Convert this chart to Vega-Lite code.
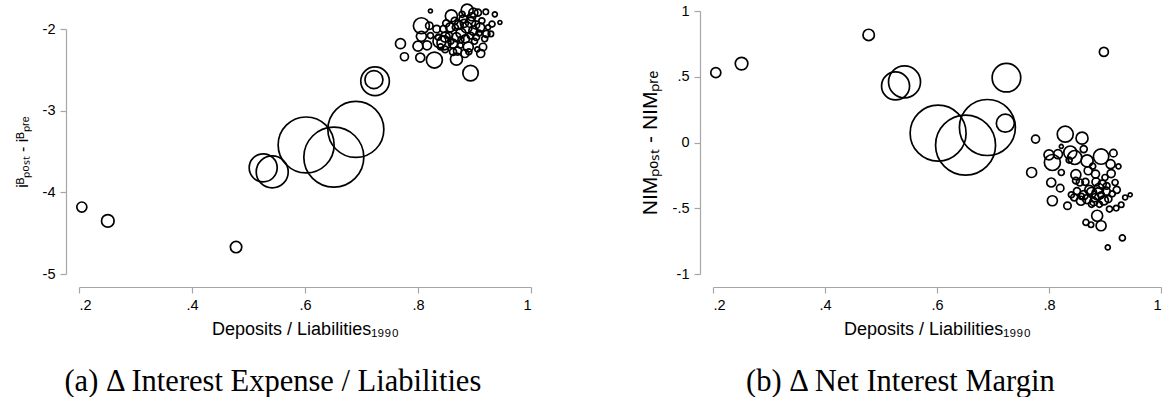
{
  "$schema": "https://vega.github.io/schema/vega-lite/v6.json",
  "padding": {"left": 14, "top": 0, "right": 0, "bottom": 0},
  "background": "white",
  "config": {
    "view": {"stroke": null},
    "axis": {
      "domainColor": "#a6a6a6", "tickColor": "#a6a6a6", "domainWidth": 1.2, "tickWidth": 1.2,
      "tickSize": 6, "labelFont": "Liberation Sans", "labelFontSize": 14.5, "labelColor": "black",
      "titleFont": "Liberation Sans", "titleFontWeight": "normal", "titleColor": "black", "grid": false,
      "offset": 13, "labelPadding": 5
    },
    "title": {"font": "Liberation Serif", "fontSize": 30.5, "fontWeight": "normal", "color": "black"}
  },
  "data": {"values": [
    {"x": 0.205, "a": -4.18, "b": 0.531, "w": 2.8},
    {"x": 0.251, "a": -4.35, "b": 0.60, "w": 4.4},
    {"x": 0.478, "a": -4.67, "b": 0.818, "w": 3.6},
    {"x": 0.526, "a": -3.70, "b": 0.43, "w": 21.8},
    {"x": 0.542, "a": -3.75, "b": 0.461, "w": 28.4},
    {"x": 0.602, "a": -3.42, "b": 0.071, "w": 87},
    {"x": 0.651, "a": -3.57, "b": -0.02, "w": 100},
    {"x": 0.690, "a": -3.23, "b": 0.114, "w": 87},
    {"x": 0.724, "a": -2.64, "b": 0.493, "w": 22.7},
    {"x": 0.722, "a": -2.62, "b": 0.147, "w": 9},
    {"x": 0.769, "a": -2.18, "b": -0.228, "w": 2.78},
    {"x": 0.776, "a": -2.34, "b": 0.026, "w": 1.78},
    {"x": 0.800, "a": -2.21, "b": -0.094, "w": 2.78},
    {"x": 0.804, "a": -2.35, "b": -0.304, "w": 2.25},
    {"x": 0.806, "a": -1.96, "b": -0.152, "w": 7.11},
    {"x": 0.806, "a": -2.09, "b": -0.443, "w": 2.78},
    {"x": 0.816, "a": -2.20, "b": -0.089, "w": 2.25},
    {"x": 0.820, "a": -1.96, "b": -0.347, "w": 1.52},
    {"x": 0.822, "a": -1.78, "b": -0.03, "w": 0.44},
    {"x": 0.822, "a": -2.08, "b": -0.228, "w": 1.0},
    {"x": 0.829, "a": -2.38, "b": 0.063, "w": 7.11},
    {"x": 0.833, "a": -2.00, "b": -0.481, "w": 1.52},
    {"x": 0.836, "a": -2.10, "b": -0.134, "w": 1.0},
    {"x": 0.838, "a": -2.15, "b": -0.076, "w": 4.69},
    {"x": 0.840, "a": -2.22, "b": -0.398, "w": 1.0},
    {"x": 0.846, "a": -2.17, "b": -0.114, "w": 5.44},
    {"x": 0.845, "a": -2.00, "b": -0.418, "w": 1.36},
    {"x": 0.848, "a": -2.10, "b": -0.245, "w": 2.78},
    {"x": 0.848, "a": -2.25, "b": -0.29, "w": 1.21},
    {"x": 0.850, "a": -1.93, "b": -0.37, "w": 1.36},
    {"x": 0.855, "a": -2.08, "b": -0.304, "w": 1.36},
    {"x": 0.857, "a": -1.98, "b": -0.443, "w": 2.25},
    {"x": 0.858, "a": -2.15, "b": -0.41, "w": 1.0},
    {"x": 0.859, "a": -1.84, "b": 0.033, "w": 4.0},
    {"x": 0.862, "a": -2.28, "b": -0.05, "w": 1.36},
    {"x": 0.862, "a": -2.18, "b": -0.40, "w": 2.25},
    {"x": 0.865, "a": -1.90, "b": -0.30, "w": 1.36},
    {"x": 0.866, "a": -1.98, "b": -0.608, "w": 1.0},
    {"x": 0.868, "a": -2.37, "b": -0.14, "w": 4.0},
    {"x": 0.868, "a": -2.10, "b": -0.43, "w": 2.25},
    {"x": 0.870, "a": -2.27, "b": -0.215, "w": 1.78},
    {"x": 0.872, "a": -1.95, "b": -0.36, "w": 2.25},
    {"x": 0.875, "a": -2.20, "b": -0.625, "w": 0.81},
    {"x": 0.876, "a": -2.05, "b": -0.38, "w": 2.78},
    {"x": 0.876, "a": -2.13, "b": -0.47, "w": 1.0},
    {"x": 0.878, "a": -1.82, "b": -0.18, "w": 1.0},
    {"x": 0.880, "a": -1.88, "b": -0.45, "w": 1.78},
    {"x": 0.882, "a": -1.93, "b": -0.42, "w": 1.78},
    {"x": 0.883, "a": -2.30, "b": -0.24, "w": 1.78},
    {"x": 0.884, "a": -2.12, "b": -0.30, "w": 1.78},
    {"x": 0.886, "a": -1.98, "b": -0.557, "w": 3.36},
    {"x": 0.887, "a": -1.77, "b": -0.39, "w": 4.0},
    {"x": 0.889, "a": -2.22, "b": -0.35, "w": 2.78},
    {"x": 0.890, "a": -2.28, "b": -0.47, "w": 1.0},
    {"x": 0.893, "a": -1.92, "b": -0.633, "w": 2.78},
    {"x": 0.893, "a": -2.08, "b": -0.40, "w": 1.21},
    {"x": 0.893, "a": -2.54, "b": -0.107, "w": 6.59},
    {"x": 0.895, "a": -1.85, "b": -0.316, "w": 1.78},
    {"x": 0.898, "a": -1.80, "b": 0.689, "w": 2.25},
    {"x": 0.898, "a": -2.02, "b": -0.44, "w": 2.25},
    {"x": 0.900, "a": -2.15, "b": -0.266, "w": 1.0},
    {"x": 0.902, "a": -1.95, "b": -0.37, "w": 1.78},
    {"x": 0.903, "a": -2.10, "b": -0.33, "w": 1.21},
    {"x": 0.905, "a": -2.25, "b": -0.798, "w": 0.69},
    {"x": 0.906, "a": -1.80, "b": -0.43, "w": 1.36},
    {"x": 0.908, "a": -2.05, "b": -0.506, "w": 1.0},
    {"x": 0.910, "a": -1.98, "b": -0.165, "w": 2.25},
    {"x": 0.911, "a": -2.30, "b": -0.236, "w": 1.78},
    {"x": 0.913, "a": -1.90, "b": -0.39, "w": 1.0},
    {"x": 0.915, "a": -2.22, "b": -0.081, "w": 1.52},
    {"x": 0.918, "a": -2.12, "b": -0.304, "w": 1.0},
    {"x": 0.920, "a": -1.79, "b": -0.499, "w": 0.81},
    {"x": 0.921, "a": -2.06, "b": -0.36, "w": 1.36},
    {"x": 0.924, "a": -1.98, "b": -0.182, "w": 0.69},
    {"x": 0.929, "a": -2.06, "b": -0.473, "w": 0.81},
    {"x": 0.931, "a": -1.94, "b": -0.726, "w": 1.0},
    {"x": 0.936, "a": -1.82, "b": -0.418, "w": 0.69},
    {"x": 0.945, "a": -1.92, "b": -0.398, "w": 0.44}
  ]},
  "hconcat": [
    {
      "width": 452, "height": 263,
      "title": {"text": "(a) Δ Interest Expense / Liabilities", "orient": "bottom", "anchor": "middle", "frame": "bounds", "offset": 28},
      "mark": {"type": "point", "shape": "circle", "filled": false, "stroke": "black", "strokeWidth": 1.7, "opacity": 1},
      "encoding": {
        "x": {"field": "x", "type": "quantitative",
          "scale": {"domain": [0.2, 1], "nice": false, "zero": false},
          "axis": {"values": [0.2, 0.4, 0.6, 0.8, 1], "labelExpr": "replace(format(datum.value, '~g'), '0.', '.')",
            "title": "Deposits / Liabilities₁₉₉₀", "titleFontSize": 18, "titlePadding": 9}},
        "y": {"field": "a", "type": "quantitative",
          "scale": {"domain": [-5, -2], "range": [263, 18], "nice": false, "zero": false},
          "axis": {"values": [-5, -4, -3, -2], "labelExpr": "replace(format(datum.value, '~g'), '−', '-')",
            "title": "iᴮₚₒₛₜ - iᴮₚᵣₑ", "titleFontSize": 16, "titlePadding": 12}},
        "size": {"field": "w", "type": "quantitative", "scale": {"domain": [0, 100], "range": [0, 3600], "zero": true}, "legend": null}
      }
    },
    {
      "width": 448, "height": 263,
      "title": {"text": "(b) Δ Net Interest Margin", "orient": "bottom", "anchor": "middle", "frame": "bounds", "offset": 28},
      "mark": {"type": "point", "shape": "circle", "filled": false, "stroke": "black", "strokeWidth": 1.7, "opacity": 1},
      "encoding": {
        "x": {"field": "x", "type": "quantitative",
          "scale": {"domain": [0.2, 1], "nice": false, "zero": false},
          "axis": {"values": [0.2, 0.4, 0.6, 0.8, 1], "labelExpr": "replace(format(datum.value, '~g'), '0.', '.')",
            "title": "Deposits / Liabilities₁₉₉₀", "titleFontSize": 18, "titlePadding": 9}},
        "y": {"field": "b", "type": "quantitative",
          "scale": {"domain": [-1, 1], "nice": false, "zero": false},
          "axis": {"values": [-1, -0.5, 0, 0.5, 1], "labelExpr": "replace(replace(format(datum.value, '~g'), '−', '-'), '0.', '.')",
            "title": "NIMₚₒₛₜ - NIMₚᵣₑ", "titleFontSize": 21, "titlePadding": 12}},
        "size": {"field": "w", "type": "quantitative", "scale": {"domain": [0, 100], "range": [0, 3600], "zero": true}, "legend": null}
      }
    }
  ],
  "spacing": 182,
  "bounds": "flush"
}
